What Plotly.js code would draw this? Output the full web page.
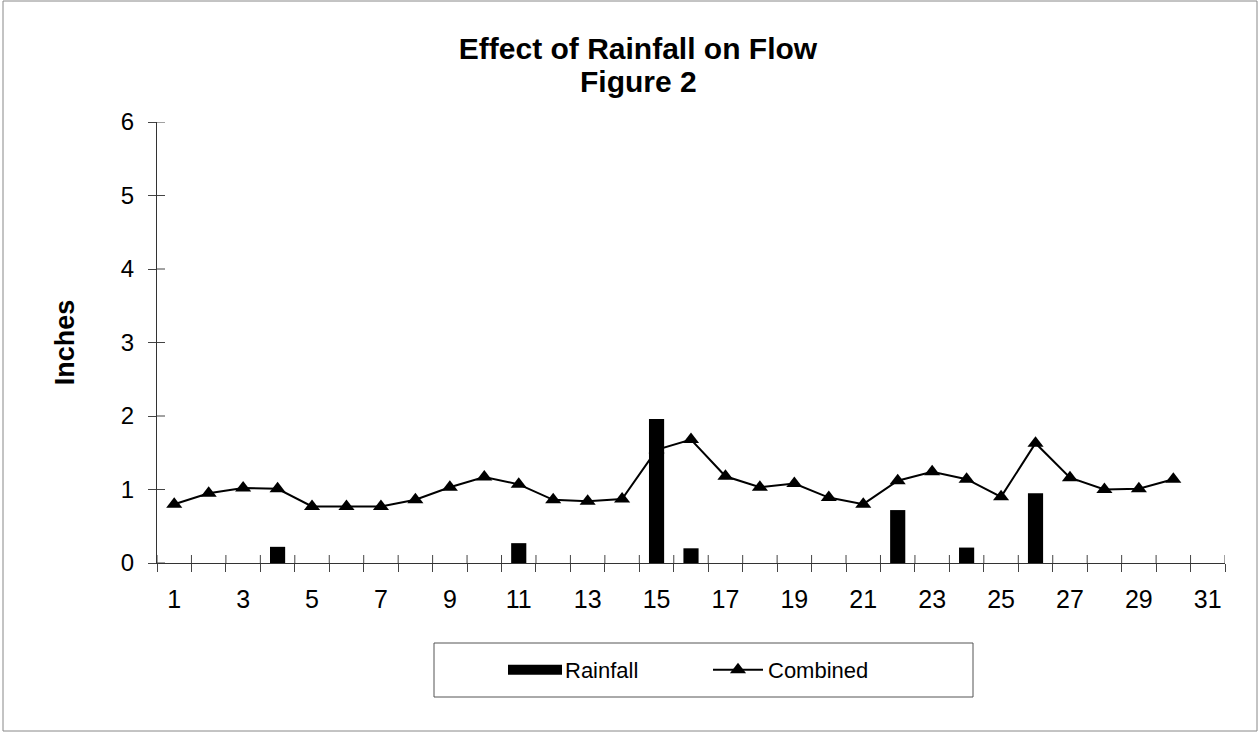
<!DOCTYPE html>
<html><head><meta charset="utf-8">
<script src="https://cdn.plot.ly/plotly-3.0.1.min.js"></script>
<style>html,body{margin:0;padding:0;background:#fff}#chart{width:1259px;height:733px}</style>
</head><body><div id="chart"></div>
<script>
const days = [1,2,3,4,5,6,7,8,9,10,11,12,13,14,15,16,17,18,19,20,21,22,23,24,25,26,27,28,29,30];
const rainfall = [0,0,0,0.22,0,0,0,0,0,0,0.27,0,0,0,1.96,0.2,0,0,0,0,0,0.72,0,0.21,0,0.95,0,0,0,0];
const combined = [0.8,0.95,1.02,1.01,0.77,0.77,0.77,0.86,1.03,1.17,1.07,0.86,0.84,0.87,1.54,1.68,1.18,1.03,1.08,0.89,0.8,1.12,1.24,1.14,0.9,1.63,1.16,1.0,1.01,1.14];
const xLabelVals = [1,3,5,7,9,11,13,15,17,19,21,23,25,27,29,31];
const xLabels = xLabelVals.map(String);
const catBounds = Array.from({length:32},(_,i)=>i+0.5);
const yTicks = [0,1,2,3,4,5,6];
const titleLine1 = 'Effect of Rainfall on Flow';
const titleLine2 = 'Figure 2';

const font = 'Liberation Sans, Arial, sans-serif';
const W = 1259, H = 733, ML = 157, MR = 34, MT = 122, MB = 170;
const PW = W-ML-MR, PH = H-MT-MB;
const px2x = p => (p-ML)/PW;
const px2y = p => (H-MB-p)/PH;
const tickIn = 8;

const traces = [
  {type:'bar', name:'Rainfall', x:days, y:rainfall, width:0.44,
   marker:{color:'#000', line:{width:0}}},
  {type:'scatter', mode:'lines+markers', name:'Combined', x:days, y:combined,
   line:{color:'#000', width:2}, marker:{symbol:'triangle-up', size:14, color:'#000'}},
  {type:'scatter', x:[], y:[], xaxis:'x2', yaxis:'y', showlegend:false, hoverinfo:'skip'}
];

const shapes = [];
catBounds.forEach(v => shapes.push({type:'line', xref:'x', yref:'paper', x0:v, x1:v, y0:0, y1:tickIn/PH,
  line:{color:'#444', width:1}}));
yTicks.forEach(v => shapes.push({type:'line', xref:'paper', yref:'y', x0:0, x1:tickIn/PW, y0:v, y1:v,
  line:{color:'#444', width:1}}));
shapes.push({type:'rect', xref:'paper', yref:'paper', x0:px2x(3), x1:px2x(1257), y0:px2y(731), y1:px2y(1),
  line:{color:'#888', width:1}, fillcolor:'rgba(0,0,0,0)', layer:'below'});
shapes.push({type:'rect', xref:'paper', yref:'paper', x0:px2x(434), x1:px2x(973), y0:px2y(697), y1:px2y(643),
  line:{color:'#555', width:1}, fillcolor:'rgba(0,0,0,0)'});

const layout = {
  width:W, height:H,
  margin:{l:ML, r:MR, t:MT, b:MB},
  paper_bgcolor:'#fff', plot_bgcolor:'#fff',
  showlegend:true,
  font:{family:font, color:'#000', size:24},
  title:{text:'<b>'+titleLine1+'</b>', font:{family:font, size:30, color:'#000'},
         x:px2x(638), xref:'paper', xanchor:'center', y:1-48/H, yref:'container', yanchor:'middle'},
  annotations:[{text:'<b>'+titleLine2+'</b>', xref:'paper', yref:'paper', x:px2x(638), y:px2y(82),
         xanchor:'center', yanchor:'middle', showarrow:false, font:{family:font, size:30, color:'#000'}}],
  xaxis:{range:[0.5,31.5], tickmode:'array', tickvals:xLabelVals, ticktext:xLabels,
         ticks:'', showgrid:false, zeroline:false, showline:true, linecolor:'#333', linewidth:1,
         tickfont:{size:25}, ticklabelstandoff:14, fixedrange:true},
  xaxis2:{overlaying:'x', range:[0.5,31.5], tickmode:'array', tickvals:catBounds, ticks:'outside',
          ticklen:8, tickcolor:'#444', showticklabels:false, showgrid:false, zeroline:false, showline:false, side:'bottom', anchor:'y'},
  yaxis:{range:[0,6], tickmode:'array', tickvals:yTicks, ticks:'outside', ticklen:8, tickcolor:'#444',
         showgrid:false, zeroline:false, showline:true, linecolor:'#333', linewidth:1,
         tickfont:{size:24}, ticklabelstandoff:9,
         title:{text:'<b>Inches</b>', font:{size:27}, standoff:38}},
  legend:{orientation:'h', x:px2x(505), xanchor:'left', y:px2y(670), yanchor:'middle',
          borderwidth:0, bgcolor:'rgba(0,0,0,0)', font:{size:22},
          entrywidth:138, entrywidthmode:'pixels', itemwidth:50},
  shapes:shapes
};
Plotly.newPlot('chart', traces, layout, {displayModeBar:false, staticPlot:true}).then(gd => {
  gd.querySelectorAll('.legend .legendpoints path').forEach(p => {
    const d = p.getAttribute('d') || '';
    if (d.indexOf('M6,6H-6V-6H6Z') === 0) p.setAttribute('d', 'M27,5H-27V-5H27Z');
  });
});
</script></body></html>
